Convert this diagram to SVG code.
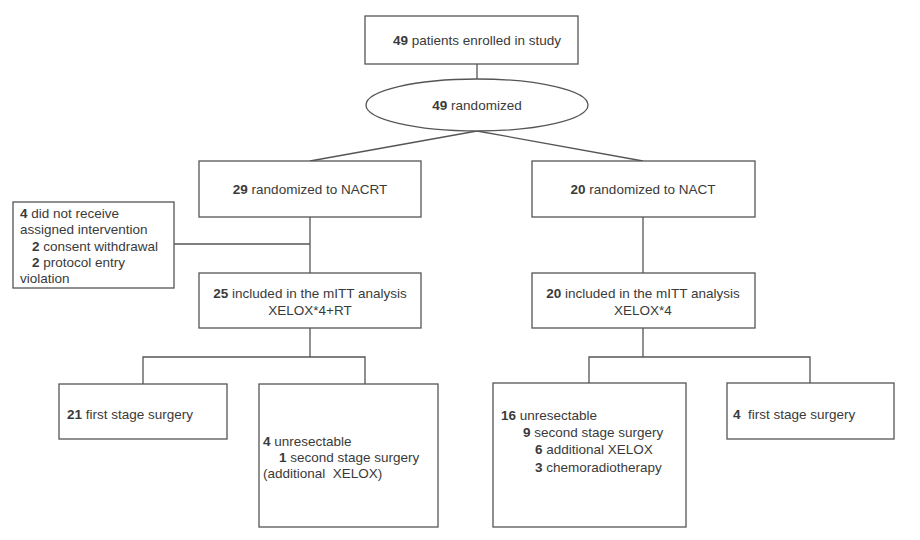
<svg xmlns="http://www.w3.org/2000/svg" width="920" height="540" viewBox="0 0 920 540">
<style>
.box{fill:#fff;stroke:#555;stroke-width:1.3}
.ln{stroke:#555;stroke-width:1.3;fill:none}
text{font-family:"Liberation Sans",Arial,sans-serif;font-size:13.5px;fill:#3a3a3a;white-space:pre}
.c{text-anchor:middle}
.b{font-weight:700}
</style>
<rect width="920" height="540" fill="#fff"/>
<g id="connectors">
<line class="ln" x1="477" y1="64" x2="477" y2="79"/>
<line class="ln" x1="477" y1="131" x2="310" y2="161"/>
<line class="ln" x1="477" y1="131" x2="643" y2="161"/>
<line class="ln" x1="310" y1="217" x2="310" y2="273"/>
<line class="ln" x1="174" y1="244" x2="310" y2="244"/>
<line class="ln" x1="643" y1="217" x2="643" y2="273"/>
<polyline class="ln" points="310,328 310,357"/>
<polyline class="ln" points="143,384 143,357 365,357 365,384"/>
<polyline class="ln" points="643,328 643,357"/>
<polyline class="ln" points="589,384 589,357 810,357 810,384"/>
</g>
<g id="enrolled">
<rect class="box" x="365" y="16" width="213" height="48"/>
<text class="c" x="477" y="45"><tspan class="b">49</tspan> patients enrolled in study</text>
</g>
<g id="randomized">
<ellipse class="box" cx="477" cy="105" rx="111" ry="26"/>
<text class="c" x="477" y="110"><tspan class="b">49</tspan> randomized</text>
</g>
<g id="nacrt">
<rect class="box" x="199" y="161" width="222" height="56"/>
<text class="c" x="310" y="194"><tspan class="b">29</tspan> randomized to NACRT</text>
</g>
<g id="nact">
<rect class="box" x="532" y="161" width="223" height="56"/>
<text class="c" x="643" y="194"><tspan class="b">20</tspan> randomized to NACT</text>
</g>
<g id="excluded">
<rect class="box" x="13" y="202" width="161" height="86"/>
<text x="20" y="218"><tspan class="b">4</tspan> did not receive</text>
<text x="20" y="234">assigned intervention</text>
<text x="32" y="251"><tspan class="b">2</tspan> consent withdrawal</text>
<text x="32" y="267"><tspan class="b">2</tspan> protocol entry</text>
<text x="20" y="283">violation</text>
</g>
<g id="mitt-nacrt">
<rect class="box" x="199" y="273" width="222" height="55"/>
<text class="c" x="310" y="298"><tspan class="b">25</tspan> included in the mITT analysis</text>
<text class="c" x="310" y="315">XELOX*4+RT</text>
</g>
<g id="mitt-nact">
<rect class="box" x="532" y="273" width="223" height="55"/>
<text class="c" x="643" y="298"><tspan class="b">20</tspan> included in the mITT analysis</text>
<text class="c" x="643" y="315">XELOX*4</text>
</g>
<g id="first-nacrt">
<rect class="box" x="59" y="384" width="168" height="55"/>
<text x="67" y="419"><tspan class="b">21</tspan> first stage surgery</text>
</g>
<g id="unres-nacrt">
<rect class="box" x="259" y="384" width="179" height="143"/>
<text x="263" y="446"><tspan class="b">4</tspan> unresectable</text>
<text x="279" y="462"><tspan class="b">1</tspan> second stage surgery</text>
<text x="263" y="478">(additional  XELOX)</text>
</g>
<g id="unres-nact">
<rect class="box" x="493" y="383" width="193" height="144"/>
<text x="501" y="420"><tspan class="b">16</tspan> unresectable</text>
<text x="523" y="437"><tspan class="b">9</tspan> second stage surgery</text>
<text x="535" y="454"><tspan class="b">6</tspan> additional XELOX</text>
<text x="535" y="472"><tspan class="b">3</tspan> chemoradiotherapy</text>
</g>
<g id="first-nact">
<rect class="box" x="727" y="383" width="167" height="56"/>
<text x="733" y="419"><tspan class="b">4</tspan>  first stage surgery</text>
</g>
</svg>
